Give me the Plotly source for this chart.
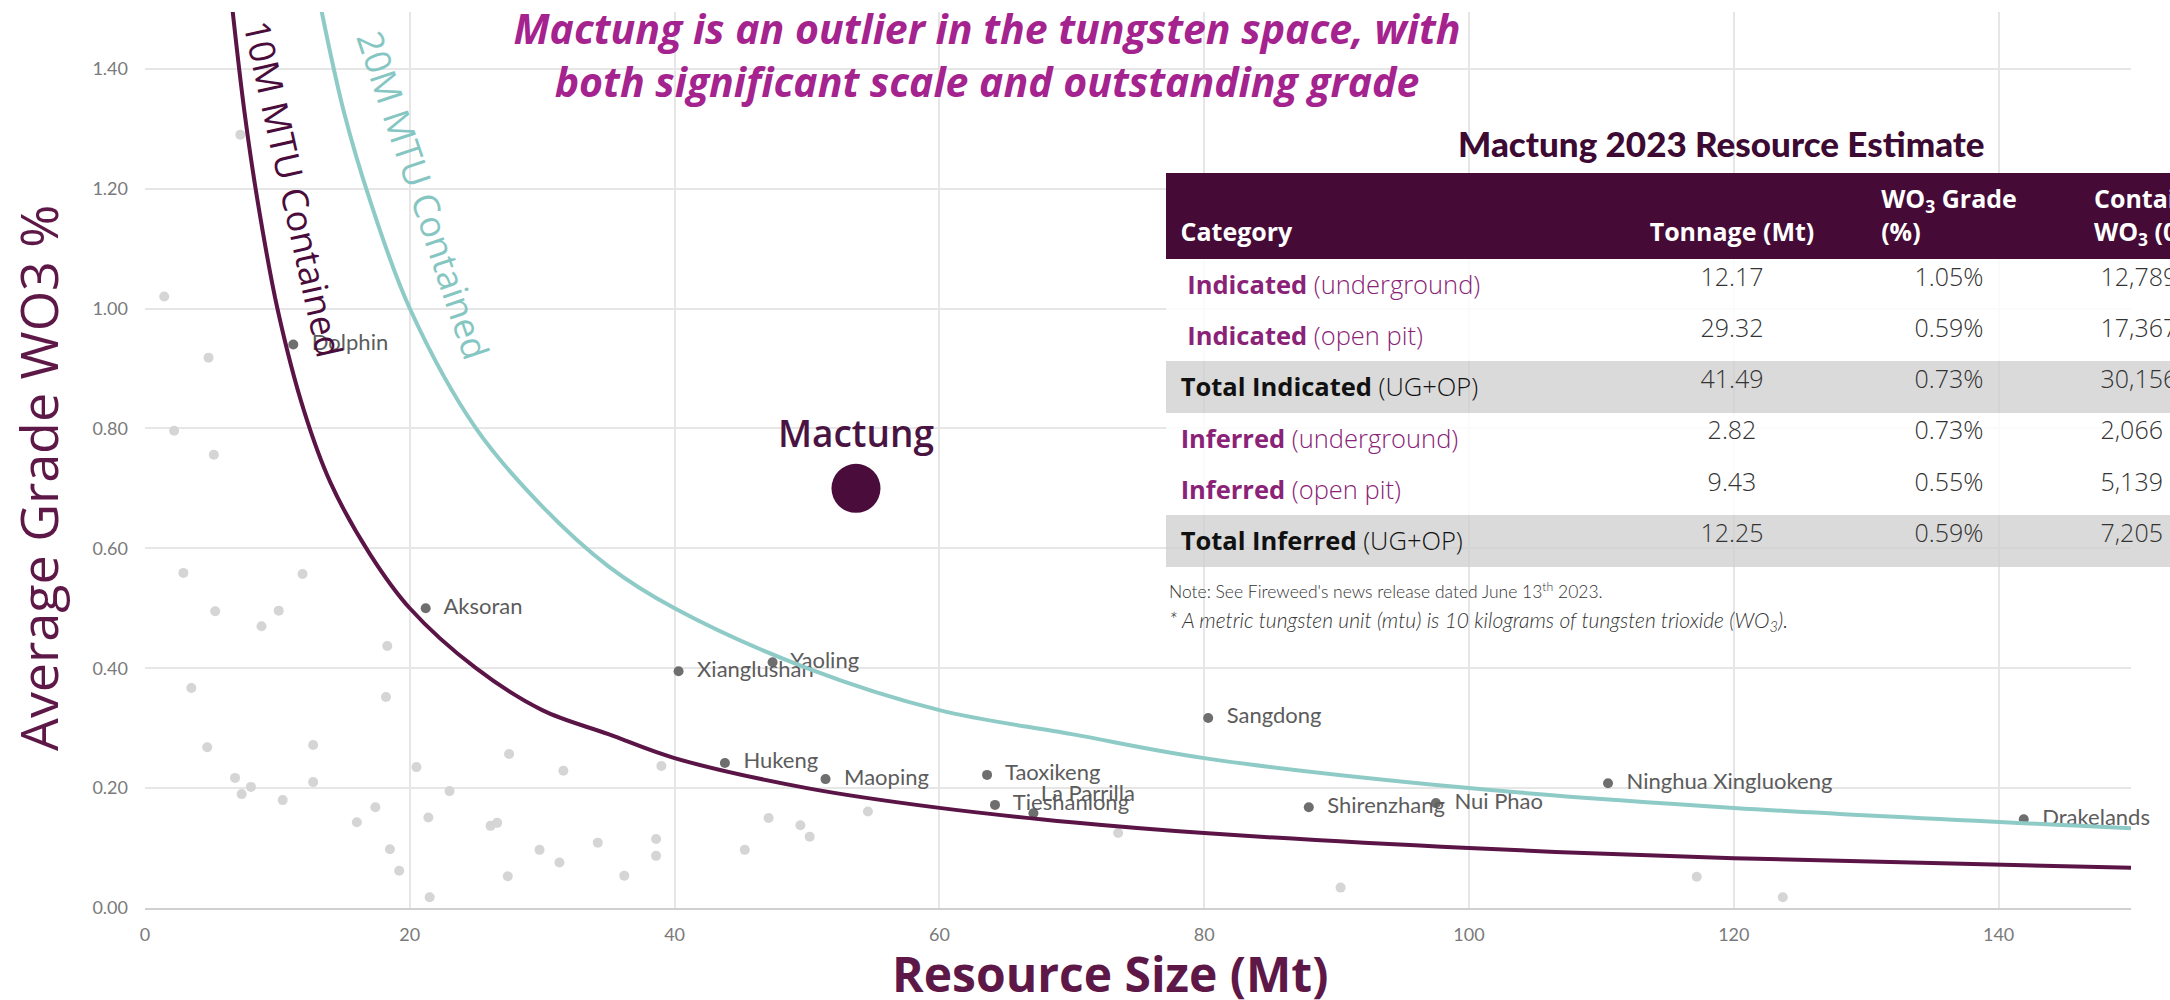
import plotly.graph_objects as go

W, H = 2170, 1000
ML, MR, MT, MB = 145, 0, 12, 92

# ---------------- data ----------------
named_names = ["Dolphin", "Aksoran", "Xianglushan", "Yaoling", "Hukeng", "Maoping",
               "Taoxikeng", "Tieshanlong", "La Parrilla", "Sangdong", "Shirenzhang",
               "Nui Phao", "Ninghua Xingluokeng", "Drakelands"]
named_size = [11.2, 21.2, 40.3, 47.4, 43.8, 51.4, 63.6, 64.2, 67.1, 80.3, 87.9, 97.5, 110.5, 141.9]
named_grade = [0.94, 0.50, 0.395, 0.41, 0.242, 0.215, 0.222, 0.172, 0.158, 0.317, 0.168, 0.175, 0.208, 0.148]
named_textpos = ["middle right"] * 8 + ["top right"] + ["middle right"] * 5

other_size = [2.9, 5.3, 8.8, 10.1, 11.9, 18.3, 3.5, 18.2, 4.7, 12.7, 6.8, 7.3, 8.0, 10.4, 12.7,
              20.5, 23.0, 27.5, 31.6, 39.0, 16.0, 17.4, 21.4, 18.5, 19.2, 21.5, 26.1, 26.6, 27.4,
              29.8, 31.3, 34.2, 36.2, 38.6, 38.6, 7.2, 1.45, 4.8, 2.2, 5.2, 47.1, 49.5, 50.2,
              45.3, 54.6, 73.5, 90.3, 117.2, 123.7]
other_grade = [0.559, 0.495, 0.470, 0.496, 0.557, 0.437, 0.367, 0.352, 0.268, 0.272, 0.217, 0.190,
               0.202, 0.180, 0.210, 0.235, 0.195, 0.257, 0.229, 0.237, 0.143, 0.168, 0.151, 0.098,
               0.062, 0.018, 0.137, 0.142, 0.053, 0.097, 0.076, 0.109, 0.054, 0.115, 0.087, 1.29,
               1.02, 0.918, 0.796, 0.756, 0.150, 0.138, 0.119, 0.097, 0.161, 0.125, 0.034, 0.052,
               0.018]

mactung_size = [53.7]
mactung_grade = [0.70]

mtu10_x = [6.6, 7.5, 8.5, 10, 12, 14, 17, 20, 25, 30, 35, 40, 50, 60, 70, 80, 100, 120, 150]
mtu10_y = [1.50, 1.33, 1.18, 1.00, 0.83, 0.71, 0.59, 0.50, 0.40, 0.33, 0.29, 0.25, 0.20, 0.167,
           0.143, 0.125, 0.10, 0.083, 0.067]
mtu20_x = [13.3, 15, 17, 20, 25, 30, 35, 40, 50, 60, 70, 80, 100, 120, 150]
mtu20_y = [1.50, 1.33, 1.18, 1.00, 0.80, 0.67, 0.57, 0.50, 0.40, 0.33, 0.29, 0.25, 0.20, 0.167, 0.133]

x_ticks = [0, 20, 40, 60, 80, 100, 120, 140]
y_ticks = [0.0, 0.2, 0.4, 0.6, 0.8, 1.0, 1.2, 1.4]

tbl_category = ["Indicated", "Indicated", "Total Indicated", "Inferred", "Inferred", "Total Inferred"]
tbl_detail = ["(underground)", "(open pit)", "(UG+OP)", "(underground)", "(open pit)", "(UG+OP)"]
tbl_tonnage = [12.17, 29.32, 41.49, 2.82, 9.43, 12.25]
tbl_grade = [1.05, 0.59, 0.73, 0.73, 0.55, 0.59]
tbl_contained = [12789, 17367, 30156, 2066, 5139, 7205]

NB = "\u00a0"
tbl_headers = [NB + "<br>" + NB + "Category", NB + "<br>Tonnage (Mt)",
               "WO<sub>3</sub> Grade<br>(%)",
               NB * 2 + "Contained<br>" + NB * 2 + "WO<sub>3</sub> (000 mtu)*"]

# ---------------- colours ----------------
PLUM = "#5a1546"
TEAL = "#8ecbc7"
MAC = "#4a0c3b"
TITLE_C = "#a4238e"
PURPLE_TXT = "#8a2377"
GRID = "#e6e6e6"
AXIS_TITLE_C = "#5e1848"


def px_x(p):
    return (p - ML) / (W - ML - MR)


def px_y(p):
    return (H - MB - p) / (H - MT - MB)


fig = go.Figure()

fig.add_trace(go.Scatter(
    x=other_size, y=other_grade, mode="markers",
    marker=dict(size=10, color="#d5d5d5"), hoverinfo="skip", showlegend=False))

fig.add_trace(go.Scatter(
    x=named_size, y=named_grade, mode="markers+text",
    text=[NB * 2 + s if p == "middle right" else s for s, p in zip(named_names, named_textpos)],
    textposition=named_textpos, cliponaxis=False,
    textfont=dict(family="Lato", size=22, color="#5c5c5c"),
    marker=dict(size=10, color="#6e6e6e"), showlegend=False))

fig.add_trace(go.Scatter(
    x=mtu10_x, y=mtu10_y, mode="lines", line=dict(color=PLUM, width=4, shape="spline"),
    showlegend=False))
fig.add_trace(go.Scatter(
    x=mtu20_x, y=mtu20_y, mode="lines", line=dict(color=TEAL, width=4, shape="spline"),
    showlegend=False))

fig.add_trace(go.Scatter(
    x=mactung_size, y=mactung_grade, mode="markers+text", text=["Mactung"],
    textposition="top center", cliponaxis=False,
    textfont=dict(family="Open Sans", size=37, color="#4a1442", weight=600),
    marker=dict(size=49, color=MAC), showlegend=False))

# ---------------- table ----------------
n = len(tbl_category)
cat_cells = []
for i in range(n):
    pad = NB * 2 if tbl_category[i] == "Indicated" else NB
    cat_cells.append(f"{pad}<b>{tbl_category[i]}</b> {tbl_detail[i]}")
ton_cells = [f"{v:.2f}" for v in tbl_tonnage]
grade_cells = [f"{v:.2f}%" for v in tbl_grade]
cont_cells = [NB * 3 + f"{v:,}" for v in tbl_contained]

row_fill = ["rgba(205,205,205,0.75)" if c.startswith("Total") else "rgba(255,255,255,0.82)"
            for c in tbl_category]
cat_color = ["#111111" if c.startswith("Total") else PURPLE_TXT for c in tbl_category]

fig.add_trace(go.Table(
    domain=dict(x=[px_x(1166), 1.0], y=[px_y(640), px_y(173)]),
    columnwidth=[473, 186, 248, 97],
    header=dict(values=tbl_headers, fill_color="#450b36", line=dict(color="#450b36", width=1),
                align=["left", "center", "center", "left"], height=84,
                font=dict(family="Open Sans", size=25, color="white", weight=700)),
    cells=dict(values=[cat_cells, ton_cells, grade_cells, cont_cells],
               fill_color=[row_fill] * 4,
               line=dict(color="rgba(0,0,0,0)", width=0),
               align=["left", "center", "center", "left"], height=51.3,
               font=dict(family="Open Sans", size=[25.5, 25, 25, 25], weight=300,
                         color=[cat_color, "#333333", "#333333", "#333333"]))))

# ---------------- annotations ----------------
ann = []
ann.append(dict(text="10M MTU Contained", x=11.2, y=1.20, xref="x", yref="y", showarrow=False,
                textangle=77.5, font=dict(family="Open Sans", size=36, color="#4a0c3b")))
ann.append(dict(text="20M MTU Contained", x=21.0, y=1.19, xref="x", yref="y", showarrow=False,
                textangle=71.5, font=dict(family="Open Sans", size=36, color="#86c6c2")))
ann.append(dict(text="Mactung 2023 Resource Estimate", x=px_x(1721), y=px_y(143),
                xref="paper", yref="paper", showarrow=False, xanchor="center", yanchor="middle",
                font=dict(family="Lato", size=35, color="#3c0a32", weight=900)))
ann.append(dict(text="Note: See Fireweed's news release dated June 13<sup>th</sup> 2023.",
                x=px_x(1167), y=px_y(590), xref="paper", yref="paper", showarrow=False,
                xanchor="left", yanchor="middle",
                font=dict(family="Lato", size=17.5, color="#333333", weight=300)))
ann.append(dict(text="<i>* A metric tungsten unit (mtu) is 10 kilograms of tungsten trioxide "
                     "(WO<sub>3</sub>).</i>",
                x=px_x(1167), y=px_y(621), xref="paper", yref="paper", showarrow=False,
                xanchor="left", yanchor="middle",
                font=dict(family="Lato", size=21, color="#333333", weight=300)))
# axis titles
ann.append(dict(text="Average Grade WO3 %", x=px_x(37), y=px_y(478), xref="paper", yref="paper",
                showarrow=False, textangle=-90, xanchor="center", yanchor="middle",
                font=dict(family="Open Sans", size=52, color=AXIS_TITLE_C)))
ann.append(dict(text="<b>Resource Size (Mt)</b>", x=px_x(1110), y=px_y(974), xref="paper",
                yref="paper", showarrow=False, xanchor="center", yanchor="middle",
                font=dict(family="Open Sans", size=48, color=AXIS_TITLE_C)))

fig.update_layout(
    width=W, height=H, margin=dict(l=ML, r=MR, t=MT, b=MB),
    paper_bgcolor="white", plot_bgcolor="white", showlegend=False,
    title=dict(text="<b><i>Mactung is an outlier in the tungsten space, with<br>"
                    "both significant scale and outstanding grade</i></b>",
               x=987 / W, xanchor="center", y=1 - 44 / H, yanchor="middle",
               font=dict(family="Open Sans", size=41, color=TITLE_C)),
    annotations=ann,
    xaxis=dict(range=[0, 150], domain=[0, (2131 - ML) / (W - ML - MR)],
               tickvals=x_ticks, showgrid=True, gridcolor=GRID, gridwidth=2,
               zeroline=False, showline=True, linecolor="#d0d0d0", linewidth=2,
               ticks="", ticklabelstandoff=9,
               tickfont=dict(family="Lato", size=18, color="#7a7a7a")),
    yaxis=dict(range=[0, 896 / 599.5], tickvals=y_ticks, tickformat=".2f",
               showgrid=True, gridcolor=GRID, gridwidth=2, zeroline=False,
               showline=False, ticks="", ticklabelstandoff=16,
               tickfont=dict(family="Lato", size=18, color="#7a7a7a")),
)

fig.write_html("out.html", config={"displayModeBar": False},
               post_script="document.body.style.margin='0';")
